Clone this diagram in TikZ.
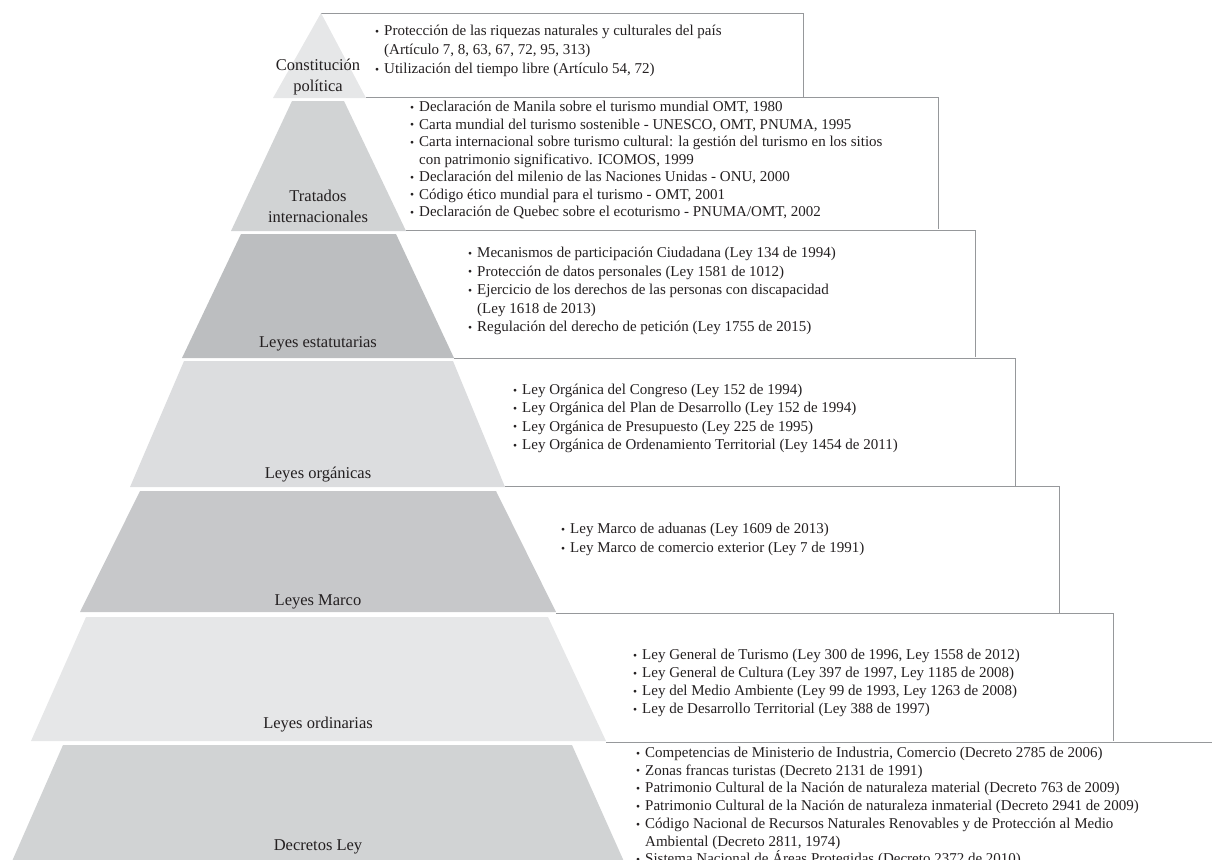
\documentclass[tikz,border=0pt]{standalone}
\usepackage{fontspec}
\setmainfont{Liberation Serif}
\usepackage{xcolor}
\usepackage{tikz}
\usetikzlibrary{calc,positioning}

\definecolor{lvA}{RGB}{230,231,232}
\definecolor{lvB}{RGB}{209,211,212}
\definecolor{lvC}{RGB}{188,190,192}
\definecolor{lvD}{RGB}{220,221,223}
\definecolor{lvE}{RGB}{199,200,202}
\definecolor{boxgray}{RGB}{150,152,155}
\definecolor{ink}{RGB}{35,31,32}

\newcommand{\bul}{\makebox[9pt][l]{\raisebox{0.3pt}{\fontsize{11.5}{11.5}\selectfont\textbullet}}}
\newcommand{\cnt}{\hspace*{9pt}}

\begin{document}
\begin{tikzpicture}[x=1pt,y=-1pt,
  boxline/.style={draw=boxgray,line width=0.8pt},
  lvl/.style={font=\fontsize{16.5}{21}\selectfont,text=ink,align=center,inner sep=0pt},
  item/.style={font=\fontsize{15}{18}\selectfont,text=ink,anchor=west,inner sep=0pt,text height=11pt,text depth=4pt}]
\useasboundingbox (0,0) rectangle (1212,859);
% open frames on the right: top edge from the layer corner, then down
\foreach \xa/\ya/\xb/\yb in {321/13/803/97, 366/97/938/229, 406/230/975/357,
                             454/358/1015/486, 505/486/1059/613, 556/613/1113/741}
  \draw[boxline] (\xa,\ya) -- (\xb,\ya) -- (\xb,\yb);
\draw[boxline] (606,742) -- (1230,742);
% pyramid layers: top y / top left / top right / bottom y / bottom left / bottom right
\foreach \ya/\tl/\tr/\yb/\bl/\br/\col in {13/321/321/98/273/366/lvA, 101/292/344/231/231/406/lvB,
                                          234/241/396/358/182/454/lvC, 361/184/453/487/130/505/lvD,
                                          491/140/496/612/80/556/lvE, 617/86/548/741/31/606/lvA,
                                          745/63/572/875/6/630/lvB}
  \fill[\col] (\tl,\ya) -- (\tr,\ya) -- (\br,\yb) -- (\bl,\yb) -- cycle;

\node[lvl] (constitucion) at (318,77) {Constitución\\política};
\node[lvl] (tratados) at (318,206) {Tratados\\internacionales};
\node[lvl] (estatutarias) at (318,344) {Leyes estatutarias};
\node[lvl] (organicas) at (318,475) {Leyes orgánicas};
\node[lvl] (marco) at (318,602) {Leyes Marco};
\node[lvl] (ordinarias) at (318,725) {Leyes ordinarias};
\node[lvl] (decretos) at (318,847) {Decretos Ley};

\foreach \tx [count=\i] in {{\bul Protección de las riquezas naturales y culturales del país},
                            {\cnt(Artículo 7, 8, 63, 67, 72, 95, 313)},
                            {\bul Utilización del tiempo libre (Artículo 54, 72)}}
  \node[item] (cp-\i) at (375,13.5+19*\i) {\tx};
\foreach \tx [count=\i] in {{\bul Declaración de Manila sobre el turismo mundial OMT, 1980},
                            {\bul Carta mundial del turismo sostenible - UNESCO, OMT, PNUMA, 1995},
                            {\bul Carta internacional sobre turismo cultural: la gestión del turismo en los sitios},
                            {\cnt con patrimonio significativo. ICOMOS, 1999},
                            {\bul Declaración del milenio de las Naciones Unidas - ONU, 2000},
                            {\bul Código ético mundial para el turismo - OMT, 2001},
                            {\bul Declaración de Quebec sobre el ecoturismo - PNUMA/OMT, 2002}}
  \node[item] (ti-\i) at (410,90.5+17.5*\i) {\tx};
\foreach \tx [count=\i] in {{\bul Mecanismos de participación Ciudadana (Ley 134 de 1994)},
                            {\bul Protección de datos personales (Ley 1581 de 1012)},
                            {\bul Ejercicio de los derechos de las personas con discapacidad},
                            {\cnt(Ley 1618 de 2013)},
                            {\bul Regulación del derecho de petición (Ley 1755 de 2015)}}
  \node[item] (le-\i) at (468,235.5+18.5*\i) {\tx};
\foreach \tx [count=\i] in {{\bul Ley Orgánica del Congreso (Ley 152 de 1994)},
                            {\bul Ley Orgánica del Plan de Desarrollo (Ley 152 de 1994)},
                            {\bul Ley Orgánica de Presupuesto (Ley 225 de 1995)},
                            {\bul Ley Orgánica de Ordenamiento Territorial (Ley 1454 de 2011)}}
  \node[item] (lo-\i) at (513,372.7+18.3*\i) {\tx};
\foreach \tx [count=\i] in {{\bul Ley Marco de aduanas (Ley 1609 de 2013)},
                            {\bul Ley Marco de comercio exterior (Ley 7 de 1991)}}
  \node[item] (lm-\i) at (561,511+19*\i) {\tx};
\foreach \tx [count=\i] in {{\bul Ley General de Turismo (Ley 300 de 1996, Ley 1558 de 2012)},
                            {\bul Ley General de Cultura (Ley 397 de 1997, Ley 1185 de 2008)},
                            {\bul Ley del Medio Ambiente (Ley 99 de 1993, Ley 1263 de 2008)},
                            {\bul Ley de Desarrollo Territorial (Ley 388 de 1997)}}
  \node[item] (lr-\i) at (633,638+18*\i) {\tx};
\foreach \tx [count=\i] in {{\bul Competencias de Ministerio de Industria, Comercio (Decreto 2785 de 2006)},
                            {\bul Zonas francas turistas (Decreto 2131 de 1991)},
                            {\bul Patrimonio Cultural de la Nación de naturaleza material (Decreto 763 de 2009)},
                            {\bul Patrimonio Cultural de la Nación de naturaleza inmaterial (Decreto 2941 de 2009)},
                            {\bul Código Nacional de Recursos Naturales Renovables y de Protección al Medio},
                            {\cnt Ambiental (Decreto 2811, 1974)},
                            {\bul Sistema Nacional de Áreas Protegidas (Decreto 2372 de 2010)}}
  \node[item] (dl-\i) at (636,736.3+17.7*\i) {\tx};
\end{tikzpicture}
\end{document}
